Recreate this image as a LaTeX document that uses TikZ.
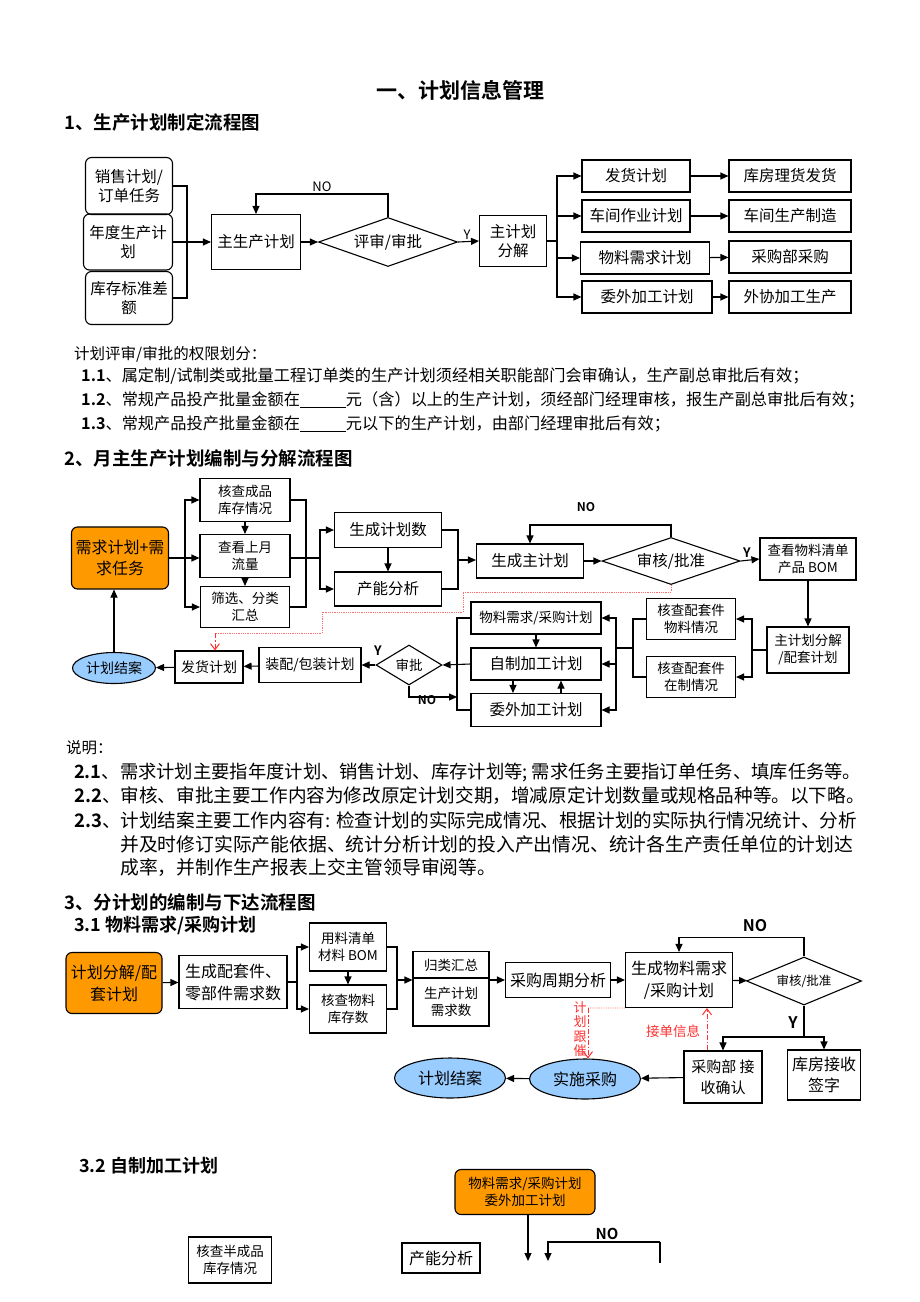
\documentclass[tikz,border=0pt]{standalone}
\usepackage{fontspec}
\setmainfont{Noto Sans CJK SC}[BoldFont={Noto Sans CJK SC Bold}]
\usetikzlibrary{arrows.meta,shapes.geometric}

\newcommand{\fsz}[2]{\fontsize{#1}{#2}\selectfont}
\newcommand{\blank}{\underline{\hspace{46pt}}}

\definecolor{planorange}{HTML}{FF9900}
\definecolor{planblue}{HTML}{99CCFF}
\definecolor{trackred}{HTML}{FF3030}

\tikzset{
  box/.style={draw, line width=1.1pt, align=center, inner sep=0pt, font=\fsz{15.5}{19}},
  sbox/.style={box, font=\fsz{13.5}{17}},
  rbox/.style={box, rounded corners=6pt},
  obox/.style={rbox, fill=planorange},
  dia/.style={draw, diamond, aspect=2.8, line width=1.1pt, inner sep=0pt, align=center, font=\fsz{15.5}{19}},
  oval/.style={draw, ellipse, fill=planblue, line width=1.1pt, inner sep=0pt, font=\fsz{14}{17}},
  arr/.style={->, line width=1.1pt},
  line/.style={line width=1.1pt},
  reddot/.style={trackred!70, densely dotted, line width=0.8pt},
  reddash/.style={-{Straight Barb[length=6pt,width=9pt]}, trackred, dash pattern=on 5pt off 2pt on 1.5pt off 2pt, line width=1pt},
  txt/.style={anchor=west, inner sep=0pt, font=\fsz{16.2}{20}},
  para/.style={anchor=west, inner sep=0pt, font=\fsz{18.6}{22}},
  head/.style={anchor=west, inner sep=0pt, font=\bfseries\fsz{18.5}{22}},
  lab/.style={inner sep=0pt, font=\fsz{13}{15}},
  blab/.style={inner sep=0pt, font=\bfseries\fsz{13}{15}}
}

\begin{document}
\begin{tikzpicture}[x=1pt, y=-1pt, >={Triangle[length=8pt,width=7pt]}]
\fill[white] (0,0) rectangle (920,1302);
\useasboundingbox (0,0) rectangle (920,1302);

% titles
\node[inner sep=0pt, font=\bfseries\fsz{21}{25}] (title) at (460,90) {一、计划信息管理};
\node[head] (h1) at (64,122) {1、生产计划制定流程图};

% ---- 1 生产计划制定
\node[rbox, minimum width=87, minimum height=57] (xs) at (129,186) {销售计划/\\订单任务};
\node[rbox, minimum width=89, minimum height=56] (nd) at (128,242) {年度生产计\\划};
\node[rbox, minimum width=87, minimum height=53] (kc) at (129,298) {库存标准差\\额};
\node[box, minimum width=89, minimum height=55] (zsc) at (256,242) {主生产计划};
\node[dia, minimum width=139, minimum height=49] (ps) at (388,242) {评审/审批};
\node[box, minimum width=67, minimum height=51] (zfj) at (513,241) {主计划\\分解};
\node[box, minimum width=108, minimum height=32] (fh) at (636,176) {发货计划};
\node[box, minimum width=108, minimum height=32] (cj) at (636,216) {车间作业计划};
\node[box, minimum width=129, minimum height=32] (wl) at (645,258) {物料需求计划};
\node[box, minimum width=130, minimum height=32] (ww) at (647,297) {委外加工计划};
\node[box, minimum width=122, minimum height=32] (kf) at (790,176) {库房理货发货};
\node[box, minimum width=122, minimum height=32] (cz) at (790,216) {车间生产制造};
\node[box, minimum width=122, minimum height=32] (cg) at (790,257) {采购部采购};
\node[box, minimum width=122, minimum height=32] (wx) at (790,297) {外协加工生产};

\coordinate (j1) at (187,242);
\draw[line] (xs.east) -| (j1) |- (kc.east);
\draw[arr] (nd.east) -- (zsc.west);
\draw[arr] (zsc.east) -- (ps.west);
\draw[arr] (ps.north) -- ++(0,-23) -| (zsc.north);
\node[lab] (no1) at (322,187) {NO};
\draw[arr] (ps.east) -- (zfj.west);
\node[lab] (y1) at (467,235) {Y};
\coordinate (j2) at (557,241);
\draw[line] (zfj.east) -- (j2);
\draw[arr] (j2) |- (fh.west);
\draw[arr] (j2) |- (cj.west);
\draw[arr] (j2) |- (wl.west);
\draw[arr] (j2) |- (ww.west);
\draw[arr] (fh) -- (kf);
\draw[arr] (cj) -- (cz);
\draw[arr] (wl) -- (cg);
\draw[arr] (ww) -- (wx);

% rules text
\node[txt, font=\fsz{15.5}{19}] (q0) at (74,354) {计划评审/审批的权限划分：};
\node[txt] (q1) at (81,376) {\textbf{1.1}、属定制/试制类或批量工程订单类的生产计划须经相关职能部门会审确认，生产副总审批后有效；};
\node[txt] (q2) at (81,400) {\textbf{1.2}、常规产品投产批量金额在\blank 元（含）以上的生产计划，须经部门经理审核，报生产副总审批后有效；};
\node[txt] (q3) at (81,424) {\textbf{1.3}、常规产品投产批量金额在\blank 元以下的生产计划，由部门经理审批后有效；};

\node[head] (h2) at (64,458) {2、月主生产计划编制与分解流程图};

% ---- 2 月主生产计划
\node[obox, minimum width=97, minimum height=62, font=\fsz{16}{21}] (xq) at (120,558) {需求计划+需\\求任务};
\node[sbox, minimum width=90, minimum height=43] (hc) at (245,500) {核查成品\\库存情况};
\node[sbox, minimum width=90, minimum height=43] (ck) at (245,556) {查看上月\\流量};
\node[sbox, minimum width=89, minimum height=41] (sx) at (245,607) {筛选、分类\\汇总};
\coordinate (j3) at (185,558);
\draw[line] (xq.east) -- (j3);
\draw[arr] (j3) |- (hc.west);
\draw[arr] (j3) -- (ck.west |- j3);
\draw[arr] (j3) |- (sx.west);
\draw[arr] (hc) -- (ck);
\draw[arr] (ck) -- (sx);
\coordinate (j4) at (306,558);
\coordinate (j5) at (320,558);
\draw[line] (hc.east) -| (j4) |- (sx.east);
\draw[line] (ck.east |- j5) -- (j5);
\node[box, minimum width=107, minimum height=35] (scs) at (388,530) {生成计划数};
\node[box, minimum width=107, minimum height=34] (cn) at (388,589) {产能分析};
\draw[arr] (j5) |- (scs.west);
\draw[arr] (j5) |- (cn.west);
\draw[arr] (scs) -- (cn);
\coordinate (j6) at (458,560);
\draw[line] (scs.east) -| (j6) |- (cn.east);
\node[box, minimum width=107, minimum height=34] (szj) at (530,561) {生成主计划};
\draw[arr] (j6) -- (szj.west |- j6);
\node[dia, aspect=2.9, minimum width=138, minimum height=47] (shp) at (671,561) {审核/批准};
\draw[arr] (szj) -- (shp);
\draw[arr] (shp.north) -- ++(0,-12) -| (szj.north);
\node[blab, font=\bfseries\fsz{12}{14}] (no2) at (586,507) {NO};
\node[sbox, minimum width=96, minimum height=42] (bom) at (808,559) {查看物料清单\\产品 BOM};
\draw[arr] (shp.east) -- (bom.west);
\node[blab] (y2) at (747,553) {Y};
\node[sbox, minimum width=82, minimum height=46] (pj) at (808,650) {主计划分解\\/配套计划};
\draw[arr] (bom) -- (pj);
\node[sbox, minimum width=89, minimum height=41] (pw) at (691,619) {核查配套件\\物料情况};
\node[sbox, minimum width=89, minimum height=41] (pz) at (691,677) {核查配套件\\在制情况};
\coordinate (j7) at (752,650);
\draw[line] (pj.west) -- (j7);
\draw[arr] (j7) |- (pw.east);
\draw[arr] (j7) |- (pz.east);
\coordinate (j8) at (633,648);
\coordinate (j9) at (616,648);
\draw[line] (pw.west) -| (j8) |- (pz.west);
\draw[line] (j8) -- (j9);
\node[sbox, minimum width=130, minimum height=32] (cgj) at (536,618) {物料需求/采购计划};
\node[box, minimum width=130, minimum height=32] (zz) at (536,664) {自制加工计划};
\node[box, minimum width=130, minimum height=33] (wwj) at (536,710) {委外加工计划};
\draw[arr] (j9) |- (cgj.east);
\draw[arr] (j9) |- (zz.east);
\draw[arr] (j9) |- (wwj.east);
\draw[arr] (cgj) -- (zz);
\draw[arr] ([xshift=-23pt]zz.south) -- ([xshift=-23pt]wwj.north);
\draw[arr] ([xshift=25pt]wwj.north) -- ([xshift=25pt]zz.south);
\coordinate (j10) at (457,664);
\coordinate (j11) at (457,697);
\draw[line] (cgj.west) -| (j10) |- (wwj.west);
\node[dia, aspect=1.65, minimum width=66, minimum height=40, font=\fsz{13.5}{16}] (sp) at (409,665) {审批};
\draw[arr] (zz.west) -- (sp.east);
\draw[arr] (sp.south) |- (j11);
\node[blab, font=\bfseries\fsz{12}{14}] (no3) at (427,700) {NO};
\node[box, minimum width=102, minimum height=35, font=\fsz{14}{17}] (zb) at (310,665) {装配/包装计划};
\draw[arr] (sp.west) -- (zb.east);
\node[blab] (y3) at (378,651) {Y};
\node[box, minimum width=68, minimum height=32, font=\fsz{14}{17}] (fh2) at (209,667) {发货计划};
\node[oval, minimum width=83, minimum height=31] (ja) at (114,668) {计划结案};
\draw[arr] (zb) -- (fh2);
\draw[arr] (fh2) -- (ja);
\draw[arr] (ja.north) -- (ja.north |- xq.south);
\coordinate (r0) at (463,592);
\coordinate (r1) at (322,612);
\coordinate (r2) at (215,633);
\draw[reddot] (shp.south) |- (r0) |- (r1) |- (r2);
\draw[reddash] (r2) -- (r2 |- fh2.north);

% notes
\node[txt, font=\fsz{15.5}{19}] (n0) at (66,748) {说明：};
\node[para, font=\fsz{18.3}{22}] (n1) at (74,772) {\textbf{2.1}、需求计划主要指年度计划、销售计划、库存计划等; 需求任务主要指订单任务、填库任务等。};
\node[para] (n2) at (74,796) {\textbf{2.2}、审核、审批主要工作内容为修改原定计划交期，增减原定计划数量或规格品种等。以下略。};
\node[para] (n3) at (74,820) {\textbf{2.3}、计划结案主要工作内容有: 检查计划的实际完成情况、根据计划的实际执行情况统计、分析};
\node[para, font=\fsz{18.8}{22}] (n4) at (120,844) {并及时修订实际产能依据、统计分析计划的投入产出情况、统计各生产责任单位的计划达};
\node[para, font=\fsz{18.8}{22}] (n5) at (120,868) {成率，并制作生产报表上交主管领导审阅等。};

\node[head] (h3) at (64,902) {3、分计划的编制与下达流程图};
\node[head, font=\bfseries\fsz{18}{22}] (h31) at (74,925) {3.1 物料需求/采购计划};

% ---- 3.1 物料需求/采购
\node[obox, minimum width=96, minimum height=61, font=\fsz{16}{22}] (ob2) at (114,983) {计划分解/配\\套计划};
\node[box, minimum width=108, minimum height=53, font=\fsz{16}{22}] (pt) at (233,982) {生成配套件、\\零部件需求数};
\draw[arr] (ob2) -- (pt);
\node[sbox, minimum width=77, minimum height=48] (yl) at (348,947) {用料清单\\材料 BOM};
\node[sbox, minimum width=77, minimum height=48] (hw) at (348,1009) {核查物料\\库存数};
\coordinate (j12) at (297,982);
\draw[line] (pt.east) -- (j12);
\draw[arr] (j12) |- (yl.west);
\draw[arr] (j12) |- (hw.west);
\draw[arr] (yl) -- (hw);
\coordinate (j13) at (397,980);
\draw[line] (yl.east) -| (j13) |- (hw.east);
\node[sbox, minimum width=76, minimum height=27] (gl1) at (451,965) {归类汇总};
\node[sbox, minimum width=76, minimum height=48] (gl2) at (451,1002) {生产计划\\需求数};
\draw[arr] (j13) -- (j13 -| gl1.west);
\node[box, minimum width=105, minimum height=35, font=\fsz{16}{19}] (cz2) at (558,980) {采购周期分析};
\draw[arr] (cz2.west -| gl1.east) -- (cz2.west);
\node[box, minimum width=107, minimum height=55, font=\fsz{16}{22}] (sc) at (679,980) {生成物料需求\\/采购计划};
\draw[arr] (cz2) -- (sc);
\node[dia, aspect=2.4, minimum width=115, minimum height=48, font=\fsz{12.5}{15}] (sh) at (804,981) {审核/批准};
\draw[arr] (sc) -- (sh);
\draw[arr] (sh.north) -- ++(0,-19) -| (sc.north);
\node[blab, font=\bfseries\fsz{16}{18}] (no4) at (755,926) {NO};
\node[box, minimum width=78, minimum height=52, font=\fsz{15}{21}] (cgb) at (723,1077) {采购部\ 接\\收确认};
\node[box, minimum width=73, minimum height=50, font=\fsz{16}{21}] (kfj) at (824,1075) {库房接收\\签字};
\coordinate (j14) at (804,1037);
\draw[line] (sh.south) -- (j14);
\draw[arr] (j14) -| (cgb.north);
\draw[arr] (j14) -| (kfj.north);
\node[blab, font=\bfseries\fsz{16}{18}] (y4) at (793,1023) {Y};
\node[oval, minimum width=111, minimum height=40, font=\fsz{16}{19}] (sscg) at (585,1079) {实施采购};
\node[oval, minimum width=111, minimum height=40, font=\fsz{16}{19}] (ja2) at (450,1078) {计划结案};
\draw[arr] (cgb) -- (sscg);
\draw[arr] (sscg) -- (ja2);
\draw[reddash] ([xshift=-16pt]cgb.north) -- ([xshift=-16pt]cgb.north |- sc.south);
\node[lab, text=trackred, font=\fsz{13.5}{16}] (jd) at (673,1031) {接单信息};
\coordinate (r3) at (588,1008);
\draw[reddot] (sc.south west) -- (r3);
\draw[reddash] (r3) -- (r3 |- sscg.north);
\node[lab, text=trackred, align=center, font=\fsz{13}{14.5}] (gc) at (580,1029) {计\\划\\跟\\催};

% ---- 3.2 自制加工
\node[head, font=\bfseries\fsz{18}{22}] (h32) at (79,1166) {3.2 自制加工计划};
\node[obox, minimum width=140, minimum height=45, font=\fsz{13.5}{17}] (ob3) at (525,1192) {物料需求/采购计划\\委外加工计划};
\coordinate (e1) at (528,1261);
\coordinate (e2) at (660,1263);
\coordinate (e3) at (548,1261);
\draw[arr] (ob3.south -| e1) -- (e1);
\draw[line] (e2) -- ++(0,-21) coordinate (e4);
\draw[arr] (e4) -| (e3);
\node[blab, font=\bfseries\fsz{15}{17}] (no5) at (607,1234) {NO};
\node[box, minimum width=78, minimum height=30, font=\fsz{16}{19}] (cn2) at (441,1258) {产能分析};
\node[sbox, minimum width=83, minimum height=46] (hb) at (230,1260) {核查半成品\\库存情况};

\end{tikzpicture}
\end{document}
